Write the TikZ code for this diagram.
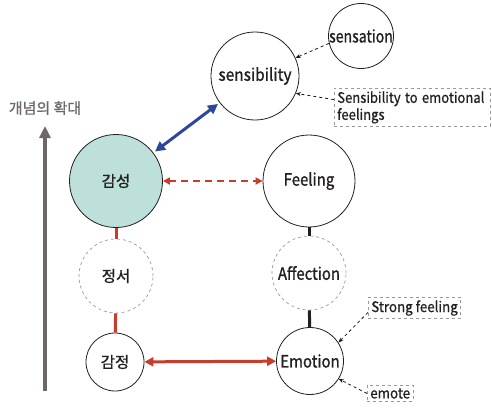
\documentclass[tikz,border=0pt]{standalone}
\usepackage{fontspec}
\setmainfont{Noto Sans CJK KR}[FakeBold=1.2]
\newfontfamily\latfont{Noto Sans CJK KR}[FakeBold=1.2]
\newfontfamily\notefont{Noto Sans CJK KR}[FakeBold=0.8]
\newcommand\sq[2][0.88]{\scalebox{#1}[1]{#2}}
\usetikzlibrary{arrows.meta,calc}
\definecolor{myred}{HTML}{C63D2B}
\definecolor{myblue}{HTML}{2F479A}
\definecolor{myteal}{HTML}{BDE1DA}
\definecolor{mygray}{HTML}{6D6768}
\definecolor{txt}{HTML}{231F20}
\tikzset{
  circ/.style={circle,draw=txt,line width=0.8pt,inner sep=0pt,text=txt,font=\latfont\fontsize{17}{19}\selectfont},
  kcirc/.style={circ,font=\fontsize{15.5}{17}\selectfont},
  dcirc/.style={circle,draw=gray!80,dashed,line width=0.7pt,inner sep=0pt,text=txt,font=\latfont\fontsize{17}{19}\selectfont},
  kdcirc/.style={dcirc,font=\fontsize{15.5}{17}\selectfont},
  notebox/.style={draw=gray!80,dashed,line width=0.6pt,inner sep=3pt,text=txt,font=\notefont\fontsize{14.5}{17}\selectfont},
  notearrow/.style={draw=gray!20!black,dashed,line width=0.8pt,-{Stealth[length=5pt,width=4pt]}},
  redline/.style={myred,line width=3pt},
  blackline/.style={txt,line width=3pt},
}
\begin{document}
\begin{tikzpicture}[x=1pt,y=-1pt]
\useasboundingbox (0,0) rectangle (492,407);
% nodes
\node[kcirc,fill=myteal,minimum size=93pt] (gamseong) at (116,181) {감성};
\node[kdcirc,minimum size=74pt] (jeongseo) at (116,276) {정서};
\node[kcirc,minimum size=58pt] (gamjeong) at (115,362) {감정};
\node[circ,minimum size=88pt] (sensibility) at (255,76) {\sq[0.91]{sensibility}};
\node[circ,minimum size=64pt] (sensation) at (361,36) {\sq[0.83]{sensation}};
\node[circ,minimum size=92pt] (feeling) at (309,181) {\sq{Feeling}};
\node[dcirc,minimum size=74pt] (affection) at (309,273) {\sq{Affection}};
\node[circ,minimum size=67pt] (emotion) at (310,361) {\sq{Emotion}};
\node[notebox,text width=150pt,align=left,anchor=north west,inner sep=3pt] (box1) at (334,88) {\sq[0.9]{Sensibility to emotional}\\\sq[0.9]{feelings}};
\node[notebox,anchor=north west,inner sep=3pt] (box2) at (368,297) {\sq[0.92]{Strong feeling}};
\node[notebox,anchor=north west,inner sep=3pt] (box3) at (367,385) {\sq[0.92]{emote}};
% expansion arrow
\coordinate (abot) at (45,391);
\coordinate (atop) at (45,126);
\draw[mygray,line width=4pt,-{Triangle[length=12pt,width=11pt]}] (abot) -- (atop);
\node[text=mygray,font=\fontsize{15}{17}\selectfont] (axlabel) at (45,108) {개념의 확대};
% vertical connectors
\draw[redline] (gamseong) -- (jeongseo);
\draw[redline] (jeongseo) -- (gamjeong);
\draw[blackline] (feeling) -- (affection);
\draw[blackline] (affection) -- (emotion);
% horizontal arrows
\draw[myred,line width=3pt,{Triangle[length=9pt,width=9pt]}-{Triangle[length=9pt,width=9pt]}] (gamjeong) -- (emotion);
\draw[myred,line width=2pt,dash pattern=on 7pt off 5pt,{Triangle[length=7pt,width=7pt]}-{Triangle[length=7pt,width=7pt]}] (gamseong) -- (feeling);
\draw[myblue,line width=3pt,{Triangle[length=10pt,width=10pt]}-{Triangle[length=10pt,width=10pt]},shorten <=2pt,shorten >=2pt] (gamseong) -- (sensibility);
% note arrows
\draw[notearrow] (sensation.193) -- (sensibility.24);
\draw[notearrow] ($(box1.north west)!0.3!(box1.south west)$) -- (sensibility.-23);
\draw[notearrow] ($(box2.north west)!0.7!(box2.south west)$) -- (emotion.33);
\draw[notearrow] ($(box3.north west)!0.5!(box3.south west)$) -- (emotion.-32);
\end{tikzpicture}
\end{document}
